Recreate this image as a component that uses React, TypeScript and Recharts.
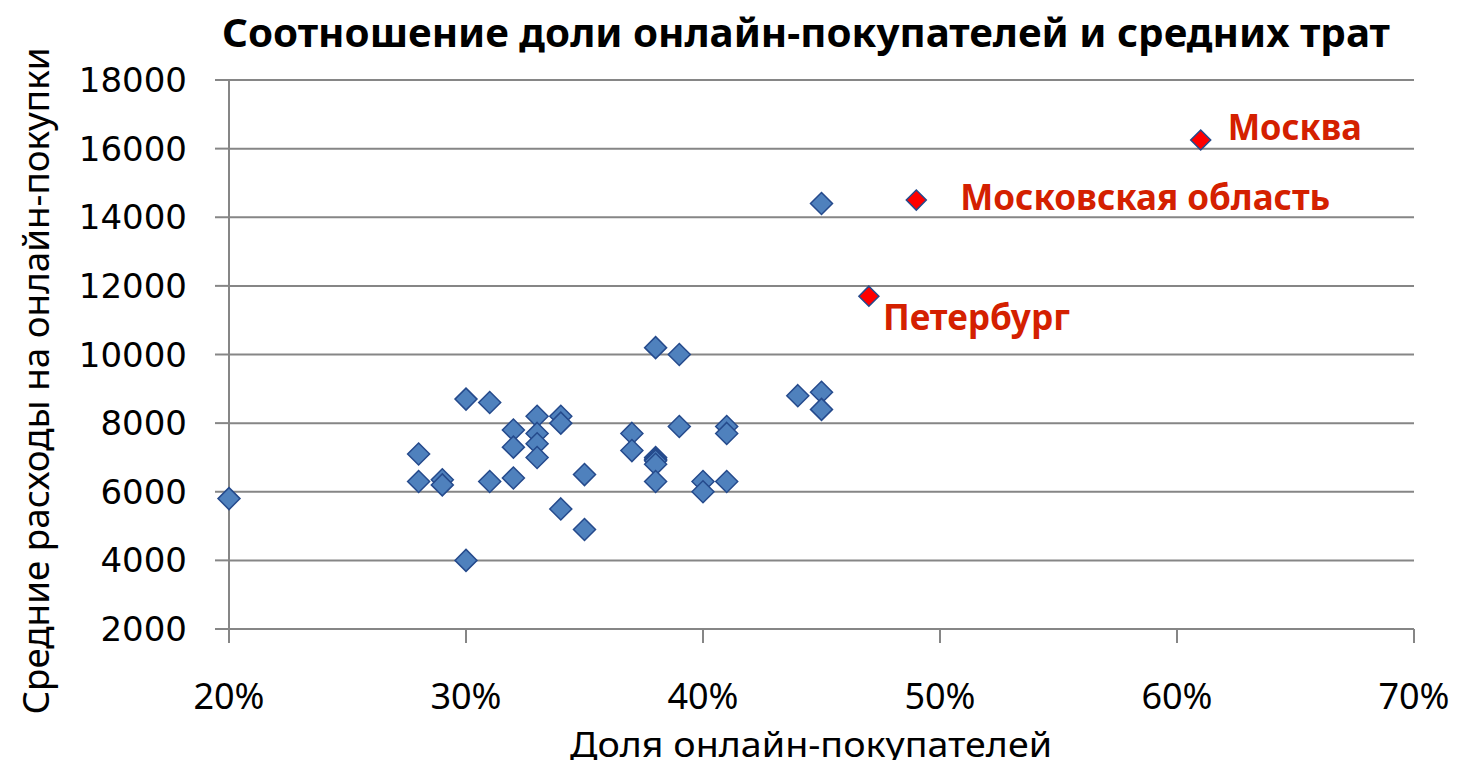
import React from "react";
import {
  ScatterChart,
  Scatter,
  XAxis,
  YAxis,
  CartesianGrid,
} from "recharts";

// Доля онлайн-покупателей (%) и средние траты по регионам
const shareRegions = [
  20, 28, 28, 29, 29, 30, 30, 31, 31, 32, 32, 32, 33, 33, 33, 33, 34, 34, 34,
  35, 35, 37, 37, 38, 38, 38, 38, 38, 38, 39, 39, 40, 40, 41, 41, 41, 44, 45,
  45, 45,
];
const spendRegions = [
  5800, 7100, 6300, 6350, 6200, 8700, 4000, 8600, 6300, 7800, 7300, 6400, 8200,
  7700, 7400, 7000, 8200, 8000, 5500, 6500, 4900, 7700, 7200, 10200, 7000, 6950,
  6900, 6800, 6300, 10000, 7900, 6300, 6000, 7900, 7700, 6300, 8800, 14400,
  8900, 8400,
];

// выделенные регионы
const highlightNames = ["Москва", "Московская область", "Петербург"];
const shareHighlight = [61, 49, 47];
const spendHighlight = [16250, 14500, 11700];

const xTicks = [20, 30, 40, 50, 60, 70];
const yTicks = [2000, 4000, 6000, 8000, 10000, 12000, 14000, 16000, 18000];

// смещение подписей относительно точки
const labelOffsets: Record<string, { dx: number; dy: number; len: number }> = {
  "Москва": { dx: 27, dy: 0, len: 134 },
  "Московская область": { dx: 44, dy: 10, len: 370 },
  "Петербург": { dx: 14, dy: 34, len: 187 },
};

const regionData = shareRegions.map((x, i) => ({ x, y: spendRegions[i] }));
const highlightData = shareHighlight.map((x, i) => ({
  x,
  y: spendHighlight[i],
  name: highlightNames[i],
}));

const GRID = "#868686";

const BlueDiamond = (props: any) => {
  const { cx, cy } = props;
  const r = 11;
  return (
    <polygon
      points={`${cx},${cy - r} ${cx + r},${cy} ${cx},${cy + r} ${cx - r},${cy}`}
      fill="#4f81bd"
      stroke="#254a8c"
      strokeWidth={1.5}
    />
  );
};

const RedDiamond = (props: any) => {
  const { cx, cy, payload } = props;
  const r = 10;
  const off = labelOffsets[payload.name];
  return (
    <g>
      <polygon
        points={`${cx},${cy - r} ${cx + r},${cy} ${cx},${cy + r} ${cx - r},${cy}`}
        fill="#ff0000"
        stroke="#254a8c"
        strokeWidth={1.5}
      />
      <text
        x={cx + off.dx}
        y={cy + off.dy}
        fill="#d42000"
        fontFamily="'Noto Sans', sans-serif"
        fontWeight="bold"
        fontSize={36}
        textLength={off.len}
        lengthAdjust="spacingAndGlyphs"
      >
        {payload.name}
      </text>
    </g>
  );
};

const XTick = (props: any) => {
  const { x, y, payload } = props;
  return (
    <text
      x={x}
      y={y}
      dy={64}
      textAnchor="middle"
      fill="#000"
      fontFamily="'Noto Sans', sans-serif"
      fontSize={36}
    >
      {`${payload.value}%`}
    </text>
  );
};

const YTick = (props: any) => {
  const { x, y, payload } = props;
  return (
    <text
      x={x}
      y={y}
      dx={-26}
      dy={12}
      textAnchor="end"
      fill="#000"
      fontFamily="'DejaVu Sans', sans-serif"
      fontSize={34}
    >
      {payload.value}
    </text>
  );
};

export default function App() {
  return (
    <div
      style={{
        position: "relative",
        width: 1457,
        height: 768,
        margin: -8,
        background: "#fff",
      }}
    >
      <ScatterChart
        width={1457}
        height={768}
        margin={{ top: 80, right: 43, bottom: 0, left: 0 }}
      >
        <CartesianGrid
          vertical={false}
          stroke={GRID}
          strokeWidth={2}
          strokeDasharray=""
        />
        <XAxis
          type="number"
          dataKey="x"
          domain={[20, 70]}
          ticks={xTicks}
          height={139}
          tickSize={14}
          axisLine={{ stroke: GRID, strokeWidth: 2 }}
          tickLine={{ stroke: GRID, strokeWidth: 2 }}
          tick={<XTick />}
          interval={0}
        />
        <YAxis
          type="number"
          dataKey="y"
          domain={[2000, 18000]}
          ticks={yTicks}
          width={229}
          tickSize={14}
          axisLine={{ stroke: GRID, strokeWidth: 2 }}
          tickLine={{ stroke: GRID, strokeWidth: 2 }}
          tick={<YTick />}
          interval={0}
        />
        <Scatter
          data={regionData}
          shape={<BlueDiamond />}
          isAnimationActive={false}
        />
        <Scatter
          data={highlightData}
          shape={<RedDiamond />}
          isAnimationActive={false}
        />
      </ScatterChart>
      <svg
        width={1457}
        height={768}
        style={{ position: "absolute", left: 0, top: 0, pointerEvents: "none" }}
      >
        <text
          x={806}
          y={47}
          textAnchor="middle"
          fontFamily="'Noto Sans', sans-serif"
          fontWeight="bold"
          fontSize={40}
          textLength={1168}
          lengthAdjust="spacingAndGlyphs"
          fill="#000"
        >
          Соотношение доли онлайн-покупателей и средних трат
        </text>
        <text
          x={811}
          y={757}
          textAnchor="middle"
          fontFamily="'Noto Sans', sans-serif"
          fontSize={35}
          textLength={482}
          lengthAdjust="spacingAndGlyphs"
          fill="#000"
        >
          Доля онлайн-покупателей
        </text>
        <text
          transform="translate(49, 381) rotate(-90)"
          x={0}
          y={0}
          textAnchor="middle"
          fontFamily="'Noto Sans', sans-serif"
          fontSize={37}
          textLength={667}
          lengthAdjust="spacingAndGlyphs"
          fill="#000"
        >
          Средние расходы на онлайн-покупки
        </text>
      </svg>
    </div>
  );
}
